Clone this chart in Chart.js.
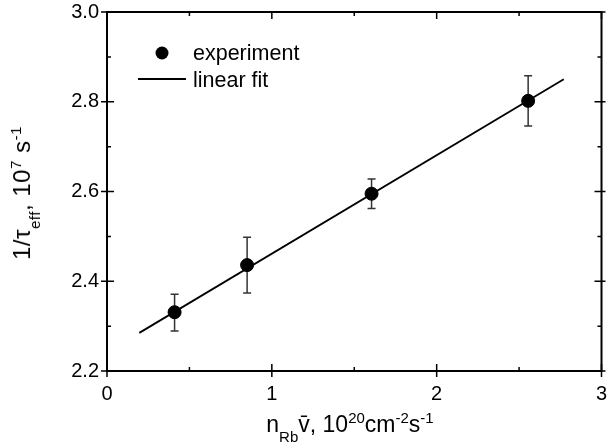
<!DOCTYPE html>
<html>
<head>
<meta charset="UTF-8">
<title>1/tau_eff vs n_Rb v</title>
<style>
  body { margin: 0; padding: 0; overflow: hidden; background: #fff; }
  #wrap { position: relative; width: 609px; height: 445px; }
  .ttl {
    position: absolute;
    font-family: "Liberation Sans", Arial, sans-serif;
    font-size: 23px;
    color: #000;
    white-space: nowrap;
    line-height: 1;
  }
  .ttl span { position: relative; vertical-align: baseline; line-height: 1; }
  #xtitle .lo { font-size: 15px; top: 10px; }
  #xtitle .hi { font-size: 15px; top: -9px; }
  #ytitle { font-size: 24px; letter-spacing: 0.5px; }
  #ytitle .lo { font-size: 15px; top: 10px; }
  #ytitle .hi { font-size: 15px; top: -9px; }
  #xtitle { left: 350px; top: 413px; transform: translateX(-50%); }
  #ytitle { left: 22px; top: 193px; transform: translate(-50%, -50%) rotate(-90deg); }
</style>
<script src="https://cdn.jsdelivr.net/npm/chart.js"></script>
</head>
<body>
<div id="wrap">
  <canvas id="chart"></canvas>
  <div class="ttl" id="xtitle">n<span class="lo">Rb</span>v&#772;, 10<span class="hi">20</span>cm<span class="hi">-2</span>s<span class="hi">-1</span></div>
  <div class="ttl" id="ytitle">1/τ<span class="lo">eff</span>, 10<span class="hi">7</span> s<span class="hi">-1</span></div>
</div>

<script>
  var expX = [0.41, 0.85, 1.605, 2.555];
  var expY = [2.331, 2.436, 2.595, 2.802];
  var errHigh = [2.371, 2.498, 2.628, 2.858];
  var errLow = [2.289, 2.374, 2.562, 2.746];

  // linear fit end points
  var fitX = [0.196, 2.771];
  var fitY = [2.285, 2.850];

  var legendLabels = ['experiment', 'linear fit'];

  var FONT = '"Liberation Sans", Arial, sans-serif';

  var errorBars = {
    id: 'errorBars',
    beforeDatasetsDraw: function (chart) {
      var ctx = chart.ctx;
      var xs = chart.scales.x, ys = chart.scales.y;
      ctx.save();
      ctx.strokeStyle = '#333';
      ctx.lineWidth = 1.5;
      for (var i = 0; i < expX.length; i++) {
        var px = xs.getPixelForValue(expX[i]);
        var top = ys.getPixelForValue(errHigh[i]);
        var bot = ys.getPixelForValue(errLow[i]);
        ctx.beginPath();
        ctx.moveTo(px, top); ctx.lineTo(px, bot);
        ctx.moveTo(px - 4, top); ctx.lineTo(px + 4, top);
        ctx.moveTo(px - 4, bot); ctx.lineTo(px + 4, bot);
        ctx.stroke();
      }
      ctx.restore();
    }
  };

  var frameTicks = {
    id: 'frameTicks',
    afterDatasetsDraw: function (chart) {
      var ctx = chart.ctx;
      var a = chart.chartArea;
      var xs = chart.scales.x, ys = chart.scales.y;
      ctx.save();
      ctx.strokeStyle = '#000';
      ctx.lineWidth = 2;
      ctx.strokeRect(a.left, a.top, a.right - a.left, a.bottom - a.top);
      ctx.lineWidth = 1.5;
      ctx.beginPath();
      xs.ticks.forEach(function (t) {
        var px = xs.getPixelForValue(t.value);
        var major = Math.abs(t.value - Math.round(t.value)) < 1e-6;
        var inLen = major ? 7 : 4;
        ctx.moveTo(px, a.bottom + (major ? 6 : 0)); ctx.lineTo(px, a.bottom - inLen);
        ctx.moveTo(px, a.top); ctx.lineTo(px, a.top + inLen);
      });
      ys.ticks.forEach(function (t) {
        var py = ys.getPixelForValue(t.value);
        var major = Math.round(t.value * 10) % 2 === 0;
        var inLen = major ? 7 : 4;
        ctx.moveTo(a.left - (major ? 6 : 0), py); ctx.lineTo(a.left + inLen, py);
        ctx.moveTo(a.right + (major ? 4 : 0), py); ctx.lineTo(a.right - inLen, py);
      });
      ctx.stroke();
      ctx.restore();
    }
  };

  var legendBox = {
    id: 'legendBox',
    afterDraw: function (chart) {
      var ctx = chart.ctx;
      ctx.save();
      ctx.fillStyle = '#000';
      ctx.strokeStyle = '#000';
      ctx.font = '21.5px ' + FONT;
      ctx.textBaseline = 'alphabetic';
      ctx.beginPath();
      ctx.arc(162, 53, 6.5, 0, Math.PI * 2);
      ctx.fill();
      ctx.fillText(legendLabels[0], 193, 60);
      ctx.lineWidth = 1.8;
      ctx.beginPath();
      ctx.moveTo(138, 79); ctx.lineTo(186, 79);
      ctx.stroke();
      ctx.fillText(legendLabels[1], 193, 87);
      ctx.restore();
    }
  };

  var expData = expX.map(function (x, i) { return { x: x, y: expY[i] }; });
  var fitData = fitX.map(function (x, i) { return { x: x, y: fitY[i] }; });

  var ctx = document.getElementById('chart').getContext('2d');
  var chart = new Chart(ctx, {
    type: 'scatter',
    data: {
      datasets: [{
        label: legendLabels[1],
        type: 'line',
        data: fitData,
        borderColor: '#000',
        borderWidth: 1.8,
        pointRadius: 0,
        fill: false
      }, {
        label: legendLabels[0],
        data: expData,
        backgroundColor: '#000',
        borderColor: '#000',
        pointRadius: 6.5,
        pointHoverRadius: 6.5,
        showLine: false
      }]
    },
    options: {
      responsive: true,
      maintainAspectRatio: false,
      animation: false,
      layout: { padding: 0 },
      plugins: {
        legend: { display: false },
        tooltip: { enabled: false }
      },
      scales: {
        x: {
          type: 'linear',
          min: 0, max: 3,
          grid: { display: false, drawTicks: false },
          border: { display: false },
          ticks: {
            stepSize: 0.5,
            autoSkip: false,
            maxRotation: 0,
            padding: 11,
            color: '#000',
            font: { family: FONT, size: 20 },
            callback: function (v) { return Math.abs(v - Math.round(v)) < 1e-6 ? String(Math.round(v)) : ''; }
          },
          afterFit: function (s) { s.height = 74; s.paddingLeft = 0; s.paddingRight = 6; }
        },
        y: {
          min: 2.2, max: 3.0,
          grid: { display: false, drawTicks: false },
          border: { display: false },
          ticks: {
            stepSize: 0.1,
            autoSkip: false,
            padding: 8,
            color: '#000',
            font: { family: FONT, size: 20 },
            callback: function (v) { return Math.round(v * 10) % 2 === 0 ? v.toFixed(1) : ''; }
          },
          afterFit: function (s) { s.width = 107; s.paddingTop = 12; s.paddingBottom = 0; }
        }
      }
    },
    plugins: [errorBars, frameTicks, legendBox]
  });
</script>
</body>
</html>
